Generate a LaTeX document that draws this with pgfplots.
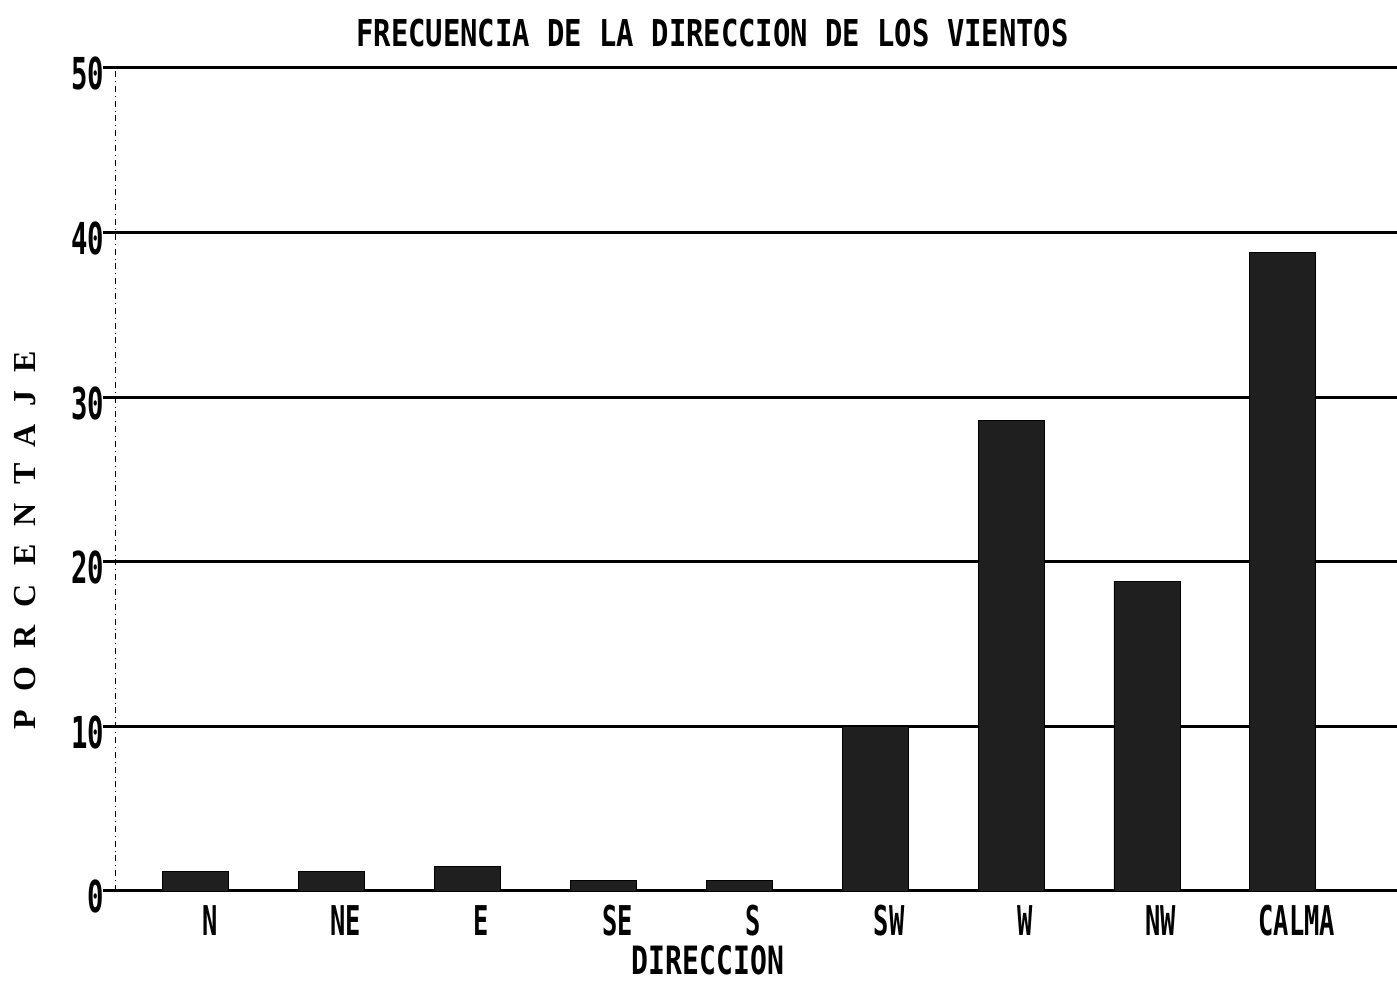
\documentclass[border=0pt]{standalone}
\usepackage{fontspec}
\usepackage{pgfplots}
\pgfplotsset{compat=1.18}
\newfontfamily\plotfont[FakeStretch=0.62]{DejaVu Sans Mono}
\newfontfamily\xlabfont[FakeStretch=0.72]{DejaVu Sans Mono}
\newfontfamily\titlefont[FakeStretch=0.78]{DejaVu Sans Mono}
\newfontfamily\ylabfont[LetterSpace=57]{Liberation Serif}
\begin{document}
\begin{tikzpicture}
\begin{axis}[name=ax, scale only axis, width=641pt, height=411.5pt,
  xmin=-0.595, xmax=8.84, ymin=0, ymax=50,
  ytick={0,10,20,30,40,50}, xtick={0,...,8},
  xticklabels={N,NE,E,SE,S,SW,W,NW,CALMA},
  axis x line=bottom, axis y line=left,
  x axis line style={line width=1.5pt, -},
  y axis line style={thin, dash dot, -},
  ymajorgrids, major grid style={line width=1.5pt, black},
  ytick style={line width=1.5pt, black}, major tick length=6pt, tick align=outside,
  xtick style={draw=none},
  /pgf/number format/assume math mode=true,
  yticklabel style={font=\plotfont\bfseries\fontsize{22}{22}\selectfont, anchor=base east, yshift=-11pt, xshift=4pt},
  xticklabel style={font=\plotfont\bfseries\fontsize{20.5}{20.5}\selectfont, anchor=base, inner sep=0pt, yshift=-16.5pt, xshift=7pt},
  ybar, bar width=33pt,
]
\addplot[fill=black!88, draw=black] coordinates {(0,1.2) (1,1.2) (2,1.5) (3,0.65) (4,0.65) (5,10.0) (6,28.6) (7,18.8) (8,38.8)};
\end{axis}
\node[anchor=base, font=\titlefont\bfseries\fontsize{18.5}{18.5}\selectfont] at ([shift={(298.75pt,10.5pt)}]ax.north west) {FRECUENCIA DE LA DIRECCION DE LOS VIENTOS};
\node[anchor=base, inner sep=0pt, font=\xlabfont\bfseries\fontsize{19.5}{19.5}\selectfont] at ([shift={(296.5pt,-42pt)}]ax.south west) {DIRECCION};
\node[rotate=90, font=\ylabfont\bfseries\fontsize{16}{16}\selectfont] at ([shift={(-45pt,175.5pt)}]ax.south west) {PORCENTAJE};
\pgfresetboundingbox
\path ([shift={(-57.5pt,-46pt)}]ax.south west) rectangle ([shift={(0pt,34pt)}]ax.north east);
\end{tikzpicture}
\end{document}
